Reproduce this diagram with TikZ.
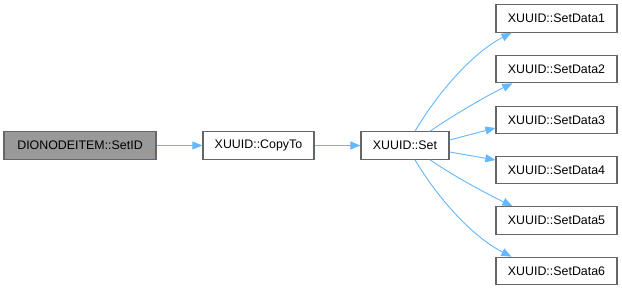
\documentclass[tikz,border=0pt]{standalone}
\usepackage{fontspec}
\setmainfont{Liberation Sans}
\usetikzlibrary{arrows.meta}
\definecolor{edgeblue}{HTML}{63B8FF}
\definecolor{boxborder}{HTML}{666666}
\definecolor{rootfill}{HTML}{999999}
\begin{document}
\begin{tikzpicture}[x=1pt,y=-1pt,
  fn/.style={draw=boxborder, line width=1.2pt, fill=white, minimum height=27.5pt,
    inner sep=0pt, font=\fontsize{12.4}{14}\selectfont, text=black},
  root/.style={fn, fill=rootfill},
  call/.style={draw=edgeblue, line width=0.9pt,
    -{Triangle[length=10pt,width=8pt]}}]
\useasboundingbox (0,0) rectangle (622,291);
\fill[white] (0,0) rectangle (622,291);

% caller chain
\node[root, minimum width=152pt] (setid) at (80,145.5) {DIONODEITEM::SetID};
\node[fn, minimum width=111pt] (copyto) at (258.5,145.5) {XUUID::CopyTo};
\node[fn, minimum width=88pt] (set) at (405,145.5) {XUUID::Set};

% callees of XUUID::Set
\foreach \i/\y in {1/18.5, 2/69, 3/120, 4/170, 5/220.5, 6/271}
  \node[fn, minimum width=121pt] (sd\i) at (556.5,\y) {XUUID::SetData\i};

\draw[call] (setid.east) -- (copyto.west);
\draw[call] (copyto.east) -- (set.west);

\draw[call] ([xshift=10pt]set.north) .. controls +(25,-42) and +(-37,19) .. ([xshift=16pt]sd1.south west);
\draw[call] ([xshift=25pt]set.north) .. controls +(25,-17) and +(-25,12) .. ([xshift=17pt]sd2.south west);
\draw[call] ([yshift=5.5pt]set.east) -- ([yshift=-8pt]sd3.west);
\draw[call] ([yshift=-6.5pt]set.east) -- ([yshift=10pt]sd4.west);
\draw[call] ([xshift=25pt]set.south) .. controls +(25,17) and +(-25,-12) .. ([xshift=17pt]sd5.north west);
\draw[call] ([xshift=10pt]set.south) .. controls +(25,42) and +(-37,-19) .. ([xshift=16pt]sd6.north west);
\end{tikzpicture}
\end{document}
